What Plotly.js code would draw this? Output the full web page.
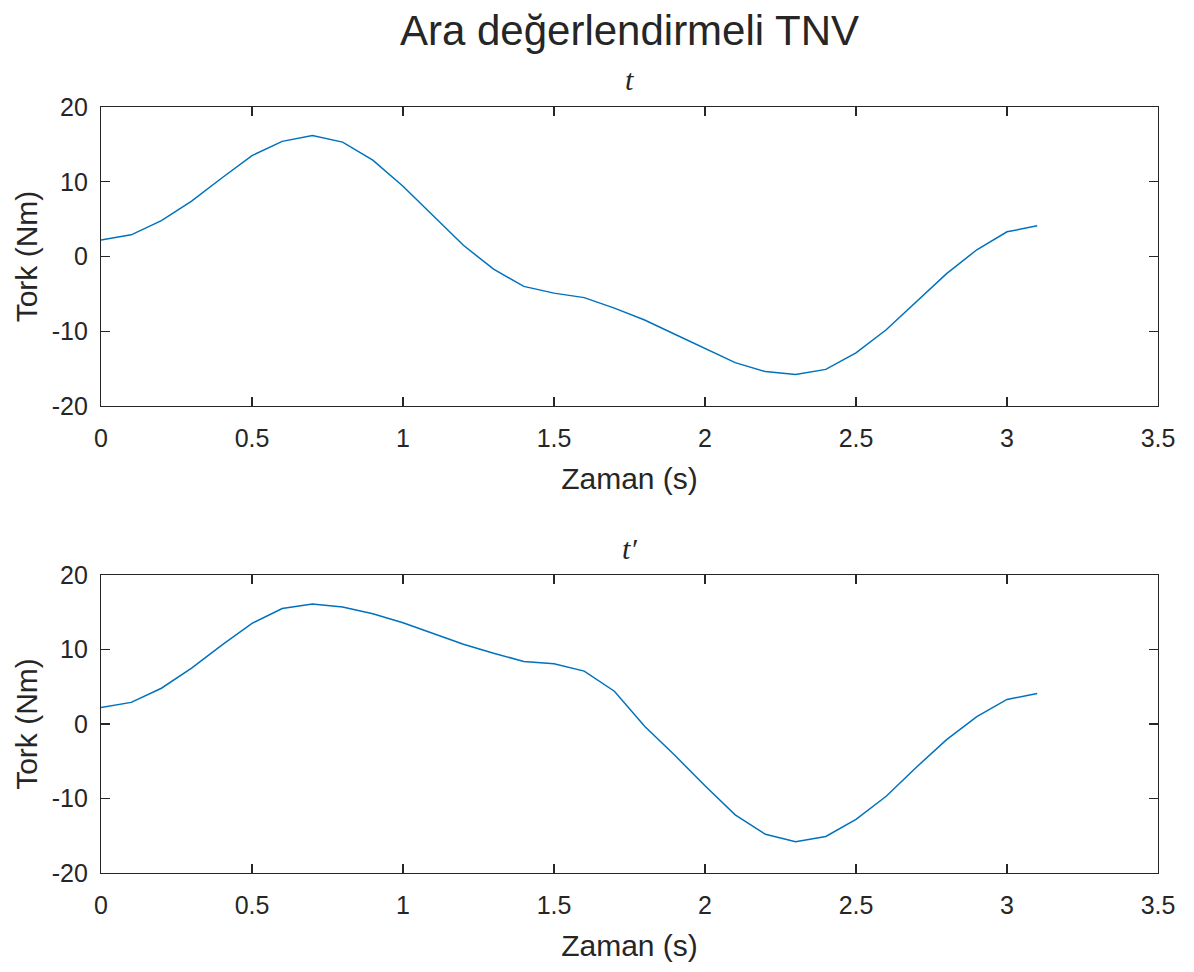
<!DOCTYPE html>
<html>
<head>
<meta charset="utf-8">
<script src="https://cdn.plot.ly/plotly-3.0.1.min.js"></script>
<style>html,body{margin:0;padding:0;background:#fff;}#chart{width:1194px;height:972px;}</style>
</head>
<body>
<div id="chart"></div>
<script>
const time = [0,0.1,0.2,0.3,0.4,0.5,0.6,0.7,0.8,0.9,1.0,1.1,1.2,1.3,1.4,1.5,1.6,1.7,1.8,1.9,2.0,2.1,2.2,2.3,2.4,2.5,2.6,2.7,2.8,2.9,3.0,3.1];
const torqueT = [2.2,2.9,4.8,7.4,10.5,13.5,15.4,16.2,15.3,12.9,9.4,5.4,1.5,-1.7,-4.0,-4.9,-5.5,-6.9,-8.5,-10.4,-12.3,-14.2,-15.4,-15.8,-15.1,-12.9,-9.8,-6.0,-2.3,0.9,3.3,4.1];
const torqueTp = [2.2,2.9,4.8,7.5,10.6,13.5,15.5,16.1,15.7,14.8,13.6,12.2,10.7,9.5,8.4,8.1,7.1,4.4,-0.3,-4.2,-8.3,-12.2,-14.8,-15.8,-15.1,-12.8,-9.7,-5.8,-2.1,1.0,3.3,4.1];
const xTicks = [0,0.5,1,1.5,2,2.5,3,3.5];
const xTickLabels = ["0","0.5","1","1.5","2","2.5","3","3.5"];
const yTicks = [-20,-10,0,10,20];
const yTickLabels = ["-20","-10","0","10","20"];
const mainTitle = "Ara değerlendirmeli TNV";
const subTitles = ["t", "t′"];
const xLabel = "Zaman (s)";
const yLabel = "Tork (Nm)";

const W = 1194, H = 972;
const axCol = '#262626';
const fam = 'Liberation Sans, Arial, sans-serif';
const tickFont = {family: fam, size: 25, color: axCol};
const labFont = {family: fam, size: 30, color: axCol};

function xa(dom, anchor){
  return {domain: dom, anchor: anchor, range:[0,3.5], tickvals:xTicks, ticktext:xTickLabels,
    ticks:'inside', ticklen:9, tickcolor:axCol, tickwidth:1.2, mirror:'ticks', showline:true,
    linecolor:axCol, linewidth:1.2, showgrid:false, zeroline:false, tickfont:tickFont, ticklabelstandoff:10,
    title:{text:xLabel, font:labFont, standoff:16}, fixedrange:true};
}
function ya(dom, anchor){
  return {domain: dom, anchor: anchor, range:[-20,20], tickvals:yTicks, ticktext:yTickLabels,
    ticks:'inside', ticklen:9, tickcolor:axCol, tickwidth:1.2, mirror:'ticks', showline:true,
    linecolor:axCol, linewidth:1.2, showgrid:false, zeroline:false, tickfont:tickFont, ticklabelstandoff:7,
    title:{text:yLabel, font:labFont, standoff:5}, fixedrange:true};
}
const xd = [101/W, 1158/W];
const yTop = [1-406/H, 1-107/H];
const yBot = [1-873/H, 1-575/H];

const data = [
  {x: time, y: torqueT, type:'scatter', mode:'lines', line:{color:'#0072BD', width:1.5}, xaxis:'x', yaxis:'y', hoverinfo:'none'},
  {x: time, y: torqueTp, type:'scatter', mode:'lines', line:{color:'#0072BD', width:1.5}, xaxis:'x2', yaxis:'y2', hoverinfo:'none'}
];
const layout = {
  width: W, height: H, showlegend:false,
  margin:{l:0,r:0,t:0,b:0}, paper_bgcolor:'#fff', plot_bgcolor:'#fff',
  font: tickFont,
  title:{text: mainTitle, font:{family:fam, size:42, color:axCol}, x:(xd[0]+xd[1])/2, xanchor:'center', y:1-30/H, yanchor:'middle'},
  xaxis: xa(xd,'y'), yaxis: ya(yTop,'x'),
  xaxis2: xa(xd,'y2'), yaxis2: ya(yBot,'x2'),
  annotations:[
    {text: subTitles[0], xref:'paper', yref:'paper', x:(xd[0]+xd[1])/2, y:1-80/H, xanchor:'center', yanchor:'middle', showarrow:false,
     font:{family:'Liberation Serif, Times New Roman, serif', size:30, color:axCol, style:'italic'}},
    {text: subTitles[1], xref:'paper', yref:'paper', x:(xd[0]+xd[1])/2, y:1-548/H, xanchor:'center', yanchor:'middle', showarrow:false,
     font:{family:'Liberation Serif, Times New Roman, serif', size:30, color:axCol, style:'italic'}}
  ]
};
Plotly.newPlot('chart', data, layout, {displayModeBar:false, staticPlot:true});
</script>
</body>
</html>
